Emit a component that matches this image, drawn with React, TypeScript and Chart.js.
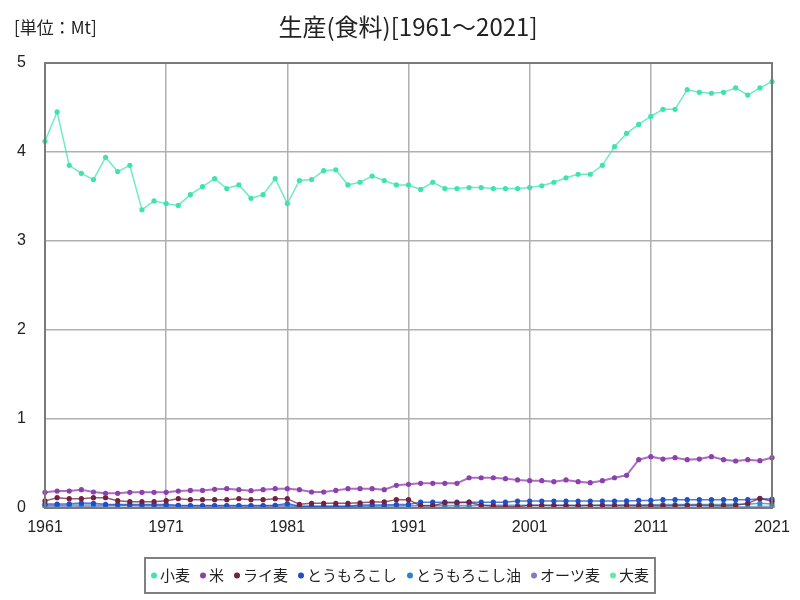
import React, { useEffect, useRef } from "react";
import { Chart, registerables } from "chart.js";

Chart.register(...registerables);

const years: string[] = [];
for (let y = 1961; y <= 2021; y++) years.push(String(y));

const titleText = "生産(食料)[1961～2021]";
const unitText = "[単位：Mt]";
const yTicks = [0, 1, 2, 3, 4, 5];

const wheat = [
  4.12, 4.45, 3.85, 3.76, 3.69, 3.94, 3.78, 3.85, 3.35, 3.45,
  3.42, 3.4, 3.52, 3.61, 3.7, 3.59, 3.63, 3.48, 3.52, 3.7,
  3.42, 3.68, 3.69, 3.79, 3.8, 3.63, 3.66, 3.73, 3.68, 3.63,
  3.63, 3.58, 3.66, 3.59, 3.59, 3.6, 3.6, 3.59, 3.59, 3.59,
  3.6, 3.62, 3.66, 3.71, 3.75, 3.75, 3.85, 4.06, 4.21, 4.31,
  4.4, 4.48, 4.48, 4.7, 4.67, 4.66, 4.67, 4.72, 4.64, 4.72, 4.79,
];
const rice = [
  0.176, 0.19, 0.19, 0.206, 0.18, 0.165, 0.165, 0.176, 0.176, 0.176,
  0.176, 0.19, 0.198, 0.198, 0.21, 0.217, 0.206, 0.195, 0.206, 0.217,
  0.217, 0.206, 0.18, 0.18, 0.198, 0.217, 0.217, 0.217, 0.206, 0.255,
  0.266, 0.277, 0.277, 0.277, 0.277, 0.34, 0.34, 0.34, 0.33, 0.315,
  0.307, 0.307, 0.296, 0.315, 0.296, 0.285, 0.307, 0.34, 0.367, 0.543,
  0.577, 0.55, 0.565, 0.543, 0.55, 0.577, 0.543, 0.528, 0.543, 0.532, 0.565,
];
const rye = [
  0.08, 0.116, 0.105, 0.105, 0.116, 0.116, 0.082, 0.071, 0.071, 0.071,
  0.082, 0.105, 0.094, 0.094, 0.094, 0.094, 0.105, 0.094, 0.094, 0.105,
  0.105, 0.041, 0.052, 0.052, 0.052, 0.052, 0.059, 0.068, 0.068, 0.094,
  0.094, 0.026, 0.026, 0.059, 0.059, 0.065, 0.03, 0.02, 0.015, 0.015,
  0.03, 0.028, 0.028, 0.028, 0.026, 0.028, 0.028, 0.026, 0.028, 0.026,
  0.028, 0.026, 0.028, 0.03, 0.03, 0.028, 0.026, 0.03, 0.052, 0.108, 0.075,
];
const corn = [
  0.045, 0.045, 0.048, 0.055, 0.052, 0.042, 0.04, 0.04, 0.04, 0.04,
  0.04, 0.03, 0.028, 0.028, 0.028, 0.028, 0.028, 0.028, 0.028, 0.03,
  0.05, 0.02, 0.02, 0.02, 0.02, 0.02, 0.035, 0.035, 0.035, 0.038,
  0.04, 0.066, 0.066, 0.066, 0.066, 0.066, 0.066, 0.066, 0.066, 0.078,
  0.078, 0.078, 0.078, 0.078, 0.078, 0.078, 0.078, 0.078, 0.08, 0.085,
  0.085, 0.093, 0.093, 0.093, 0.093, 0.093, 0.093, 0.093, 0.093, 0.103, 0.1,
];
const cornOil = [
  0.032, 0.032, 0.034, 0.035, 0.034, 0.03, 0.03, 0.03, 0.03, 0.03,
  0.028, 0.026, 0.025, 0.025, 0.025, 0.025, 0.025, 0.025, 0.025, 0.026,
  0.03, 0.018, 0.018, 0.018, 0.018, 0.018, 0.022, 0.022, 0.022, 0.024,
  0.025, 0.028, 0.028, 0.028, 0.028, 0.028, 0.03, 0.03, 0.03, 0.03,
  0.03, 0.03, 0.03, 0.032, 0.032, 0.032, 0.034, 0.034, 0.035, 0.035,
  0.036, 0.038, 0.038, 0.038, 0.04, 0.04, 0.04, 0.042, 0.042, 0.052, 0.045,
];
const oats = [
  0.02, 0.02, 0.02, 0.018, 0.018, 0.022, 0.024, 0.024, 0.022, 0.022,
  0.02, 0.018, 0.016, 0.016, 0.015, 0.015, 0.015, 0.014, 0.014, 0.014,
  0.013, 0.012, 0.012, 0.011, 0.011, 0.01, 0.01, 0.01, 0.009, 0.009,
  0.009, 0.008, 0.008, 0.008, 0.008, 0.008, 0.007, 0.007, 0.007, 0.007,
  0.007, 0.007, 0.007, 0.007, 0.007, 0.007, 0.007, 0.007, 0.007, 0.008,
  0.008, 0.008, 0.008, 0.008, 0.008, 0.009, 0.009, 0.01, 0.01, 0.012, 0.012,
];
const barley = [
  0.006, 0.006, 0.006, 0.006, 0.006, 0.005, 0.005, 0.005, 0.005, 0.005,
  0.005, 0.005, 0.005, 0.004, 0.004, 0.004, 0.004, 0.004, 0.004, 0.004,
  0.004, 0.004, 0.004, 0.004, 0.004, 0.004, 0.004, 0.004, 0.004, 0.004,
  0.004, 0.003, 0.003, 0.003, 0.003, 0.003, 0.003, 0.003, 0.003, 0.003,
  0.003, 0.003, 0.003, 0.003, 0.003, 0.003, 0.004, 0.004, 0.004, 0.005,
  0.005, 0.005, 0.006, 0.006, 0.007, 0.008, 0.01, 0.012, 0.015, 0.02, 0.022,
];

const seriesNames = ["小麦", "米", "ライ麦", "とうもろこし", "とうもろこし油", "オーツ麦", "大麦"];
const seriesValues = [wheat, rice, rye, corn, cornOil, oats, barley];
const seriesColors = ["#3fe3b0", "#8e3fae", "#74203f", "#1f4ec8", "#2a86c6", "#8a78c6", "#66eaa0"];

const JP = "'Noto Sans CJK JP', 'Liberation Sans', sans-serif";
const NUM = "'Liberation Sans', Arial, sans-serif";

function hexA(hex: string, a: number) {
  const n = parseInt(hex.slice(1), 16);
  return `rgba(${(n >> 16) & 255},${(n >> 8) & 255},${n & 255},${a})`;
}

const decorPlugin = {
  id: "decor",
  afterDraw(chart: any) {
    const ctx = chart.ctx as CanvasRenderingContext2D;
    const a = chart.chartArea;
    ctx.save();
    // frame
    ctx.strokeStyle = "#7a7a7a";
    ctx.lineWidth = 2;
    ctx.strokeRect(a.left, a.top, a.right - a.left, a.bottom - a.top);
    // title
    ctx.fillStyle = "#222";
    ctx.textBaseline = "middle";
    ctx.textAlign = "center";
    ctx.font = `24px ${JP}`;
    ctx.fillText(titleText, 408, 27);
    ctx.textAlign = "left";
    ctx.font = `17px ${JP}`;
    ctx.fillText(unitText, 14, 28);
    // legend
    ctx.font = `15px ${JP}`;
    const r = 3;
    const markerToText = 9;
    const gap = 10;
    const widths = chart.data.datasets.map((d: any) => markerToText + ctx.measureText(d.label).width);
    const total = widths.reduce((s: number, w: number) => s + w, 0) + gap * (widths.length - 1);
    const boxPad = 6;
    const boxW = total + boxPad * 2;
    const boxX = 400 - boxW / 2;
    const boxY = 558;
    const boxH = 35;
    ctx.fillStyle = "#fff";
    ctx.fillRect(boxX, boxY, boxW, boxH);
    ctx.strokeStyle = "#808080";
    ctx.lineWidth = 2;
    ctx.strokeRect(boxX, boxY, boxW, boxH);
    let x = boxX + boxPad;
    const cy = boxY + boxH / 2;
    chart.data.datasets.forEach((d: any, i: number) => {
      ctx.beginPath();
      ctx.arc(x + r, cy, r, 0, Math.PI * 2);
      ctx.fillStyle = d.pointBackgroundColor;
      ctx.fill();
      ctx.fillStyle = "#222";
      ctx.textAlign = "left";
      ctx.fillText(d.label, x + markerToText, cy);
      x += widths[i] + gap;
    });
    ctx.restore();
  },
};

export default function App() {
  const ref = useRef<HTMLCanvasElement | null>(null);
  useEffect(() => {
    if (!ref.current) return;
    const chart = new Chart(ref.current, {
      type: "line",
      data: {
        labels: years,
        datasets: seriesNames.map((name, i) => ({
          label: name,
          data: seriesValues[i],
          borderColor: hexA(seriesColors[i], 0.75),
          backgroundColor: seriesColors[i],
          pointBackgroundColor: seriesColors[i],
          pointBorderWidth: 0,
          pointRadius: 2.6,
          borderWidth: i === 1 ? 2 : 1.5,
          tension: 0,
          fill: false,
        })),
      },
      options: {
        responsive: false,
        animation: false,
        devicePixelRatio: 1,
        layout: { padding: { top: 63, right: 28, left: 0, bottom: 0 } },
        plugins: {
          legend: { display: false },
          title: { display: false },
          tooltip: { enabled: false },
        },
        scales: {
          x: {
            type: "category",
            offset: false,
            grid: {
              drawTicks: false,
              lineWidth: 1.5,
              color: (c: any) => (c.index % 10 === 0 ? "#b0b0b0" : "rgba(0,0,0,0)"),
            },
            border: { display: false },
            ticks: {
              autoSkip: false,
              maxRotation: 0,
              padding: 10,
              color: "#222",
              font: { family: NUM, size: 16 },
              callback: (_v: any, idx: number) => (idx % 10 === 0 ? years[idx] : ""),
            },
            afterFit: (s: any) => {
              s.height = 92;
            },
          },
          y: {
            min: 0,
            max: 5,
            afterBuildTicks: (s: any) => {
              s.ticks = yTicks.map((v) => ({ value: v }));
            },
            grid: { drawTicks: false, lineWidth: 1.5, color: "#b0b0b0" },
            border: { display: false },
            ticks: {
              padding: 19,
              color: "#222",
              font: { family: NUM, size: 16 },
            },
            afterFit: (s: any) => {
              s.width = 45;
            },
          },
        },
      },
      plugins: [decorPlugin],
    });
    return () => chart.destroy();
  }, []);
  return (
    <div style={{ position: "fixed", left: 0, top: 0, width: 800, height: 600, background: "#fff" }}>
      <canvas ref={ref} width={800} height={600} />
    </div>
  );
}
